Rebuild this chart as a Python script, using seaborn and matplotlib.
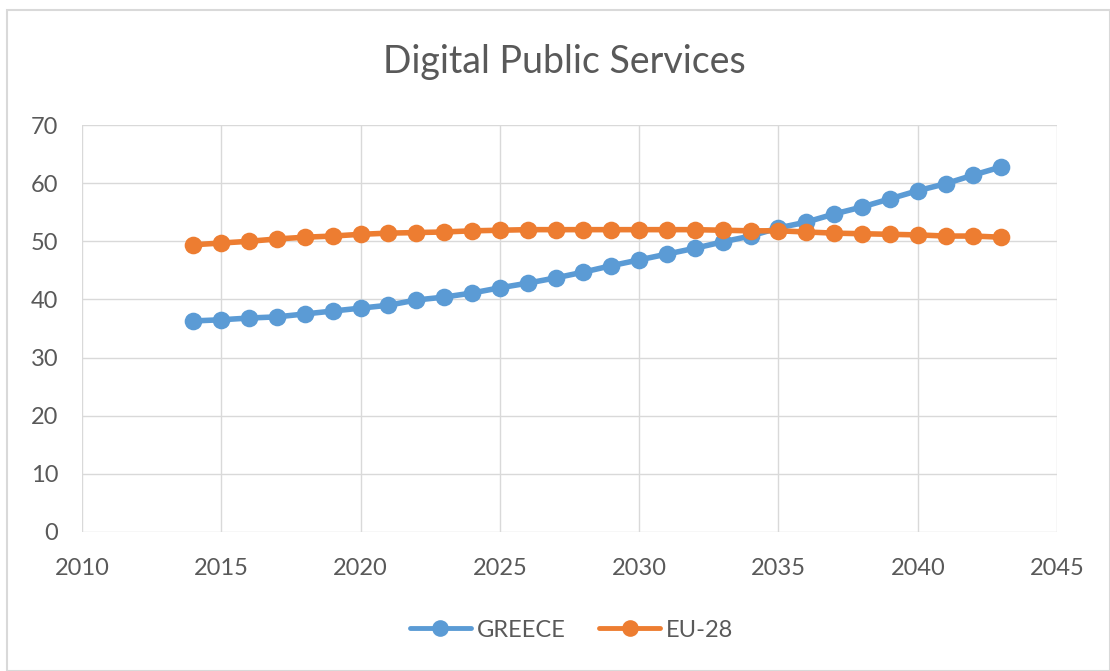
import pandas as pd
import matplotlib.pyplot as plt
import seaborn as sns
from matplotlib.patches import Rectangle

# Values
years = list(range(2014, 2044))
greece = [36.3, 36.5, 36.8, 37.0, 37.5, 38.0, 38.5, 39.0, 39.9, 40.4,
          41.1, 42.0, 42.8, 43.7, 44.7, 45.8, 46.8, 47.8, 48.8, 49.9,
          50.9, 52.3, 53.3, 54.7, 55.9, 57.3, 58.7, 59.9, 61.4, 62.8]
eu28 = [49.4, 49.7, 50.0, 50.4, 50.7, 50.9, 51.2, 51.4, 51.5, 51.6,
        51.8, 51.9, 52.0, 52.0, 52.0, 52.0, 52.0, 52.0, 52.0, 51.9,
        51.8, 51.8, 51.6, 51.4, 51.3, 51.2, 51.1, 50.9, 50.9, 50.7]
series_names = ["GREECE", "EU-28"]
x_ticks = [2010, 2015, 2020, 2025, 2030, 2035, 2040, 2045]
y_ticks = [0, 10, 20, 30, 40, 50, 60, 70]

df = pd.DataFrame({
    "year": years * 2,
    "value": greece + eu28,
    "series": [series_names[0]] * len(years) + [series_names[1]] * len(years),
})

sns.set_style("white")
plt.rcParams["font.family"] = ["Lato", "DejaVu Sans"]
text_color = "#595959"

fig = plt.figure(figsize=(11.1, 6.71), dpi=100)
ax = fig.add_axes([0.0739, 0.2072, 0.8784, 0.6065])

sns.lineplot(data=df, x="year", y="value", hue="series",
             palette=["#5B9BD5", "#ED7D31"], marker="o", markersize=12.7,
             markeredgewidth=0, linewidth=4, ax=ax, legend=True, clip_on=False)

ax.set_xlim(2010, 2045)
ax.set_ylim(0, 70)
ax.set_xticks(x_ticks)
ax.set_yticks(y_ticks)
ax.grid(True, color="#D9D9D9", linewidth=1)
ax.set_axisbelow(True)
for s in ax.spines.values():
    s.set_visible(False)
ax.tick_params(axis="both", length=0, labelsize=17, labelcolor=text_color)
ax.tick_params(axis="x", pad=19)
ax.tick_params(axis="y", pad=17)
ax.set_xlabel("")
ax.set_ylabel("")

fig.text(0.508, 0.908, "Digital Public Services", ha="center", va="center",
         fontsize=27, color=text_color)

handles, labels = ax.get_legend_handles_labels()
for h in handles:
    h.set_markersize(12)
    h.set_linewidth(3.5)
ax.legend(handles, labels, loc="center", bbox_to_anchor=(0.515, 0.061),
          bbox_transform=fig.transFigure, ncol=2, frameon=False,
          fontsize=17, labelcolor=text_color, handlelength=2.6,
          handletextpad=0.25, columnspacing=1.4)

fig.patches.append(Rectangle((0.006, 0.0), 0.994, 0.985, transform=fig.transFigure,
                             fill=False, edgecolor="#D9D9D9", linewidth=1.5))

plt.savefig("out.png", dpi=100)
plt.close()
